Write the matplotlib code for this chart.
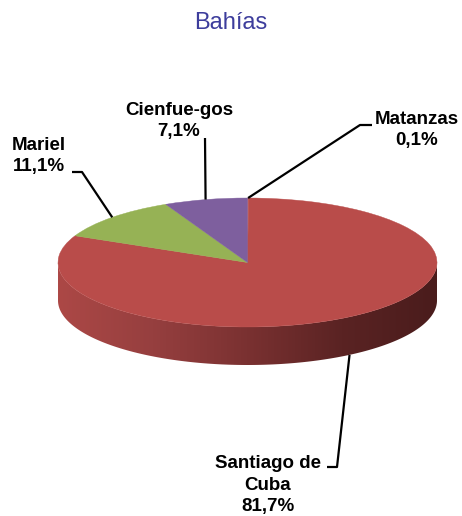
import numpy as np
import matplotlib
matplotlib.use("Agg")
import matplotlib.pyplot as plt
from matplotlib.patches import Polygon
from matplotlib.colors import LinearSegmentedColormap

# ---- data ----
categories = ["Matanzas", "Santiago de\nCuba", "Mariel", "Cienfue-gos"]
values = [0.1, 81.7, 11.1, 7.1]
value_labels = ["0,1%", "81,7%", "11,1%", "7,1%"]
colors = ["#B94C4A", "#B94C4A", "#96B255", "#7E5F9E"]
title = "Bahías"

# ---- layout (pixel space of a 462x516 image) ----
W, H = 462, 516
CX, CY = 247.5, 262.5      # pie centre in pixels
RX, RY = 189.5, 64.5       # ellipse half axes in pixels
DEPTH_PX = 38              # side wall depth in pixels

def px(x, y):
    """pixel coordinates -> data coordinates"""
    return (x - CX) / RX, (CY - y) / RY

depth = DEPTH_PX / RY

fig = plt.figure(figsize=(W / 100, H / 100), dpi=100)
ax = fig.add_axes([0, 0, 1, 1])

# ---- side wall (front half) ----
total = sum(values)
start = 90.0
angles = []
for v in values:
    a1 = start
    a0 = start - v / total * 360.0
    angles.append((a0, a1))
    start = a0

wall_cmap = LinearSegmentedColormap.from_list(
    "wall", ["#AC4846", "#963F3F", "#7A3131", "#5A2323", "#4A1C1C"])

for (a0, a1), c in zip(angles, colors):
    # visible front part is 180..360 (mod 360)
    for k in (-360, 0, 360):
        lo = max(a0 + k, 180)
        hi = min(a1 + k, 360)
        if hi > lo:
            th = np.radians(np.linspace(lo, hi, 200))
            xs = np.cos(th)
            ys = np.sin(th)
            poly = np.concatenate([np.column_stack([xs, ys]),
                                   np.column_stack([xs[::-1], ys[::-1] - depth])])
            patch = Polygon(poly, closed=True, facecolor="none", edgecolor="none")
            ax.add_patch(patch)
            grad = np.linspace(0, 1, 256).reshape(1, -1)
            im = ax.imshow(grad, cmap=wall_cmap, aspect="auto",
                           extent=(-1, 1, -1 - depth, 0.05), zorder=1)
            im.set_clip_path(patch)

# ---- top surface ----
wedges, _ = ax.pie(values, colors=colors, startangle=90, counterclock=False,
                   radius=1, center=(0, 0),
                   wedgeprops=dict(linewidth=0.3, zorder=2))
for w, c in zip(wedges, colors):
    w.set_zorder(2)
    w.set_edgecolor(c)

# ---- leader lines and labels ----
label_pos = {
    "Matanzas": (417, 130),
    "Santiago de\nCuba": (268, 485),
    "Mariel": (39, 156),
    "Cienfue-gos": (179, 121),
}
elbows = {
    "Matanzas": [(372, 125), (360, 125)],
    "Santiago de\nCuba": [(327, 467), (337, 467)],
    "Mariel": [(72, 172), (82, 172)],
    "Cienfue-gos": [(205, 138)],
}

for cat, lab, (a0, a1) in zip(categories, value_labels, angles):
    mid = np.radians((a0 + a1) / 2)
    axp, ayp = np.cos(mid), np.sin(mid)
    if ayp < 0:
        ayp -= depth
    pts = [px(*p) for p in elbows[cat]] + [(axp, ayp)]
    xs, ys = zip(*pts)
    ax.plot(xs, ys, color="black", lw=1.6, solid_capstyle="butt", zorder=3)
    tx, ty = px(*label_pos[cat])
    ax.text(tx, ty, f"{cat}\n{lab}", ha="center", va="center",
            fontsize=13.5, fontweight="bold", family="Liberation Sans",
            linespacing=1.32, color="black", zorder=4)

tx, ty = px(231, 23)
ax.text(tx, ty, title, ha="center", va="center", fontsize=17,
        family="Liberation Sans", color="#3D3D9C")

ax.set_aspect("auto")
ax.set_xlim(px(0, 0)[0], px(W, 0)[0])
ax.set_ylim(px(0, H)[1], px(0, 0)[1])
ax.axis("off")

fig.savefig("out.png", dpi=100)
